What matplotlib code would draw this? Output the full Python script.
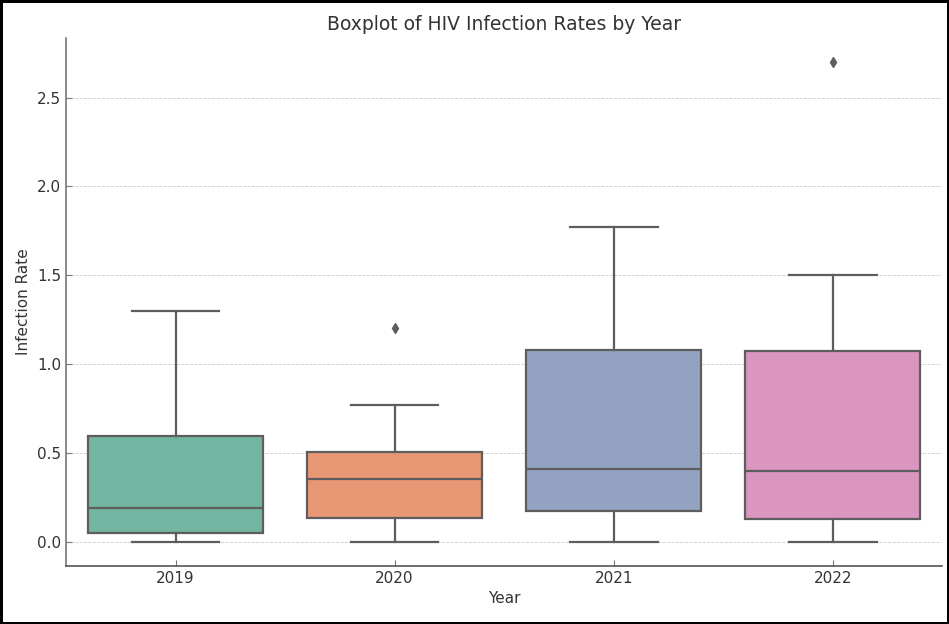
import matplotlib
matplotlib.use("Agg")
import matplotlib.pyplot as plt
import matplotlib.colors as mcolors
import colorsys

# valores (estatísticas do boxplot por ano)
anos = ["2019", "2020", "2021", "2022"]
minimos = [0.0, 0.0, 0.0, 0.0]
q1 = [0.051, 0.133, 0.174, 0.127]
medianas = [0.191, 0.353, 0.408, 0.399]
q3 = [0.596, 0.506, 1.079, 1.075]
maximos = [1.298, 0.770, 1.770, 1.503]
outliers = [[], [1.202], [], [2.698]]

cores = ["#66c2a5", "#fc8d62", "#8da0cb", "#e78ac3"]
cor_linha = "#5d5d5d"


# dessatura a cor como o seaborn faz (saturation=0.75)
def dessaturar(cor, prop=0.75):
    h, l, s = colorsys.rgb_to_hls(*mcolors.to_rgb(cor))
    return colorsys.hls_to_rgb(h, l, s * prop)


stats = []
for i in range(len(anos)):
    stats.append({
        "whislo": minimos[i], "q1": q1[i], "med": medianas[i],
        "q3": q3[i], "whishi": maximos[i], "fliers": outliers[i],
        "label": anos[i],
    })

fig = plt.figure(figsize=(9.49, 6.24), dpi=100)
fig.patch.set_edgecolor("black")
fig.patch.set_linewidth(2.5)
ax = fig.add_axes([0.0695, 0.093, 0.9235, 0.846])

bp = ax.bxp(stats, positions=range(len(anos)), widths=0.8, patch_artist=True,
            boxprops=dict(edgecolor=cor_linha, linewidth=1.6),
            medianprops=dict(color=cor_linha, linewidth=1.6),
            whiskerprops=dict(color=cor_linha, linewidth=1.6),
            capprops=dict(color=cor_linha, linewidth=1.6),
            flierprops=dict(marker="d", markerfacecolor=cor_linha,
                            markeredgecolor=cor_linha, markersize=5),
            capwidths=0.4)
for caixa, cor in zip(bp["boxes"], cores):
    caixa.set_facecolor(dessaturar(cor))

ax.set_xlim(-0.5, 3.5)
ax.set_ylim(-0.135, 2.835)
ax.set_yticks([0.0, 0.5, 1.0, 1.5, 2.0, 2.5])
ax.set_xticks(range(len(anos)))
ax.set_xticklabels(anos)

ax.set_axisbelow(True)
ax.yaxis.grid(True, linestyle="--", linewidth=0.6, color="#cccccc")
ax.spines["top"].set_visible(False)
ax.spines["right"].set_visible(False)
ax.spines["left"].set_color("#777777")
ax.spines["bottom"].set_color("#555555")
ax.spines["left"].set_linewidth(1.2)
ax.spines["bottom"].set_linewidth(1.2)
ax.tick_params(direction="in", colors="#333333", labelsize=11, length=4)
ax.tick_params(axis="both", color="#777777")

ax.set_title("Boxplot of HIV Infection Rates by Year", fontsize=13.5, color="#333333")
ax.set_xlabel("Year", fontsize=11, color="#333333")
ax.set_ylabel("Infection Rate", fontsize=11, color="#333333")

plt.savefig("out.png", dpi=100, edgecolor=fig.get_edgecolor())
